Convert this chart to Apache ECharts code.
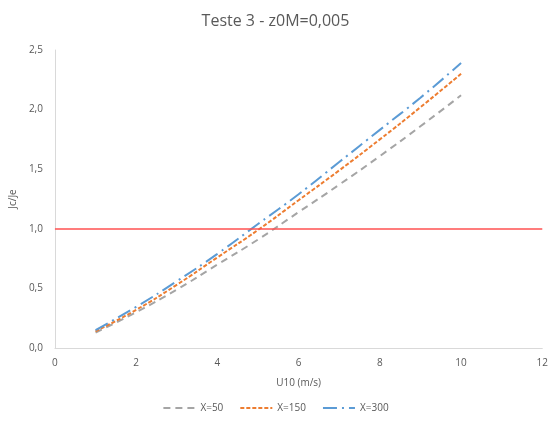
<!DOCTYPE html>
<html><head><meta charset="utf-8">
<script src="https://cdn.jsdelivr.net/npm/echarts@6/dist/echarts.min.js"></script>
<style>html,body{margin:0;padding:0;background:#fff}#c{width:551px;height:423px}</style>
</head><body><div id="c"></div>
<script>
var u10 = [1, 2, 3, 4, 5, 6, 7, 8, 9, 10];
var x50  = [0.13, 0.30, 0.49, 0.70, 0.91, 1.14, 1.37, 1.61, 1.86, 2.12];
var x150 = [0.14, 0.32, 0.53, 0.76, 0.99, 1.24, 1.49, 1.75, 2.02, 2.30];
var x300 = [0.15, 0.345, 0.56, 0.79, 1.04, 1.29, 1.56, 1.83, 2.10, 2.39];
var refLevel = 1.0;
var xTicks = [0, 2, 4, 6, 8, 10, 12];
var yTicks = [0, 0.5, 1, 1.5, 2, 2.5];

function pairs(v){ return u10.map(function(x,i){ return [x, v[i]]; }); }
var txt = '#595959', ff = 'Open Sans, Liberation Sans, sans-serif';
var chart = echarts.init(document.getElementById('c'));
chart.setOption({
  animation: false,
  title: { text: 'Teste 3 - z0M=0,005', left: 'center', top: 8,
    textStyle: { color: txt, fontSize: 16, fontWeight: 'normal', fontFamily: ff } },
  grid: { left: 53, right: 6, top: 50, bottom: 75 },
  legend: { bottom: 5, left: 'center', itemWidth: 32, itemHeight: 8, itemGap: 16,
    itemStyle: { opacity: 0 },
    textStyle: { color: txt, fontSize: 10, fontFamily: ff },
    data: ['X=50', 'X=150', 'X=300'] },
  xAxis: { type: 'value', min: 0, max: 12, interval: 2,
    name: 'U10 (m/s)', nameLocation: 'middle', nameGap: 30,
    nameTextStyle: { color: txt, fontSize: 10, fontFamily: ff },
    axisLine: { lineStyle: { color: '#d9d9d9' } }, axisTick: { show: false },
    splitLine: { show: false },
    axisLabel: { color: txt, fontSize: 10, fontFamily: ff, margin: 10 } },
  yAxis: { type: 'value', min: 0, max: 2.5, interval: 0.5,
    name: 'Jc/Je', nameLocation: 'middle', nameGap: 34,
    nameTextStyle: { color: txt, fontSize: 10, fontFamily: ff },
    axisLine: { show: true, lineStyle: { color: '#d9d9d9' } }, axisTick: { show: false },
    splitLine: { show: false },
    axisLabel: { color: txt, fontSize: 10, fontFamily: ff, margin: 12,
      formatter: function(v){ return v.toFixed(1).replace('.', ','); } } },
  series: [
    { name: 'X=50', type: 'line', data: pairs(x50), symbol: 'none', smooth: true,
      itemStyle: { color: '#a5a5a5' },
      lineStyle: { color: '#a5a5a5', width: 2, type: [7, 5] },
      markLine: { silent: true, symbol: 'none', label: { show: false },
        lineStyle: { color: '#ff5050', width: 1.5, type: 'solid' },
        data: [{ yAxis: refLevel }] } },
    { name: 'X=150', type: 'line', data: pairs(x150), symbol: 'none', smooth: true,
      itemStyle: { color: '#ed7d31' },
      lineStyle: { color: '#ed7d31', width: 2, type: [4, 2] } },
    { name: 'X=300', type: 'line', data: pairs(x300), symbol: 'none', smooth: true,
      itemStyle: { color: '#5b9bd5' },
      lineStyle: { color: '#5b9bd5', width: 2, type: [14, 5, 2, 5] } }
  ]
});
</script></body></html>
